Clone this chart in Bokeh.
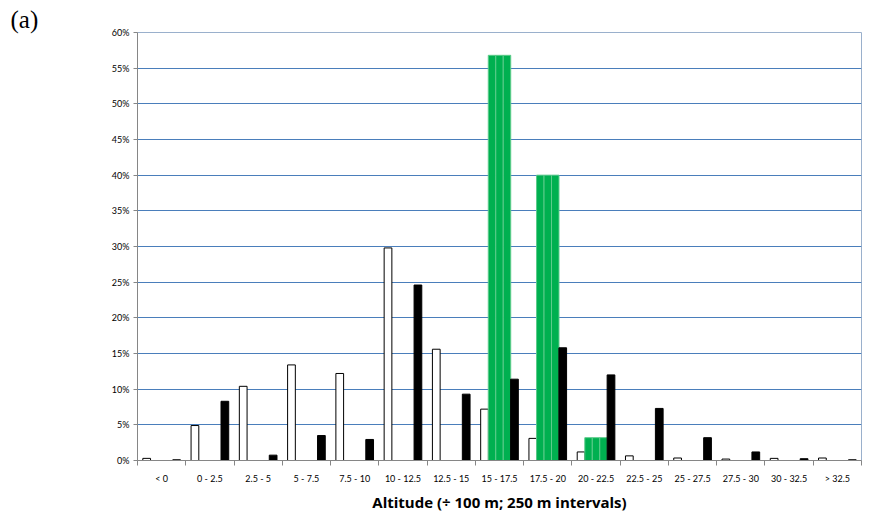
from bokeh.plotting import figure
from bokeh.models import ColumnDataSource, FixedTicker, NumeralTickFormatter, Range1d
from bokeh.embed import file_html
from bokeh.resources import INLINE
from bokeh.transform import dodge

categories = ["< 0", "0 - 2.5", "2.5 - 5", "5 - 7.5", "7.5 - 10", "10 - 12.5", "12.5 - 15",
              "15 - 17.5", "17.5 - 20", "20 - 22.5", "22.5 - 25", "25 - 27.5", "27.5 - 30",
              "30 - 32.5", "> 32.5"]
white_pct = [0.3, 4.9, 10.4, 13.4, 12.2, 29.8, 15.6, 7.2, 3.1, 1.2, 0.65, 0.35, 0.2, 0.3, 0.35]
green_pct = [0, 0, 0, 0, 0, 0, 0, 56.8, 40.0, 3.2, 0, 0, 0, 0, 0]
black_pct = [0.1, 8.3, 0.75, 3.5, 2.95, 24.6, 9.3, 11.4, 15.8, 12.0, 7.3, 3.2, 1.2, 0.25, 0.1]
y_ticks = [0, 5, 10, 15, 20, 25, 30, 35, 40, 45, 50, 55, 60]

n = len(categories)
xc = [i + 0.5 for i in range(n)]
src = ColumnDataSource(dict(
    x=xc,
    white=[v / 100 for v in white_pct],
    green=[v / 100 for v in green_pct],
    black=[v / 100 for v in black_pct],
))

p = figure(width=863, height=514, output_backend="svg", toolbar_location=None,
           x_range=Range1d(0, n), y_range=Range1d(0, y_ticks[-1] / 100),
           min_border_left=137, min_border_right=2, min_border_top=32, min_border_bottom=54,
           title="(a)")
p.background_fill_color = "white"
p.border_fill_color = "white"
p.outline_line_color = "#9AB0CC"

p.title.align = "left"
p.title.offset = -127
p.title.text_font = "Liberation Serif"
p.title.text_font_size = "25px"
p.title.text_font_style = "normal"
p.title.text_color = "black"
p.title.standoff = 0

xr = p.x_range
p.vbar(x=dodge("x", -0.31, range=xr), top="white", width=0.16, source=src,
       fill_color="white", line_color="black", line_width=1)
for off in (-0.155, 0.0, 0.155):
    p.vbar(x=dodge("x", off, range=xr), top="green", width=0.155, source=src,
           fill_color="#00B050", line_color="#5CCB8A", line_width=1)
p.vbar(x=dodge("x", 0.31, range=xr), top="black", width=0.16, source=src,
       fill_color="black", line_color="black", line_width=1)

# x axis
xa = p.xaxis[0]
xa.ticker = FixedTicker(ticks=xc, minor_ticks=list(range(n + 1)))
xa.major_label_overrides = {x: c for x, c in zip(xc, categories)}
xa.major_tick_line_color = None
xa.major_tick_out = 0
xa.minor_tick_out = 5
xa.minor_tick_in = 0
xa.minor_tick_line_color = "#868686"
xa.axis_line_color = "#868686"
xa.major_label_standoff = 7
xa.major_label_text_font = "Lato"
xa.major_label_text_font_size = "9px"
xa.major_label_text_color = "black"
xa.axis_label = "Altitude (÷ 100 m; 250 m intervals)"
xa.axis_label_text_font = "Open Sans"
xa.axis_label_text_font_style = "bold"
xa.axis_label_text_font_size = "15px"
xa.axis_label_text_color = "black"
xa.axis_label_standoff = 5

# y axis
ya = p.yaxis[0]
ya.ticker = FixedTicker(ticks=[v / 100 for v in y_ticks])
ya.formatter = NumeralTickFormatter(format="0%")
ya.major_tick_out = 4
ya.major_tick_in = 0
ya.minor_tick_line_color = None
ya.major_tick_line_color = "#868686"
ya.axis_line_color = "#868686"
ya.major_label_standoff = 4
ya.major_label_text_font = "Lato"
ya.major_label_text_font_size = "9px"
ya.major_label_text_color = "black"

p.xgrid.grid_line_color = None
p.ygrid.grid_line_color = "#4A7EBB"
p.ygrid.grid_line_width = 1

open("out.html", "w").write(file_html(p, INLINE))
